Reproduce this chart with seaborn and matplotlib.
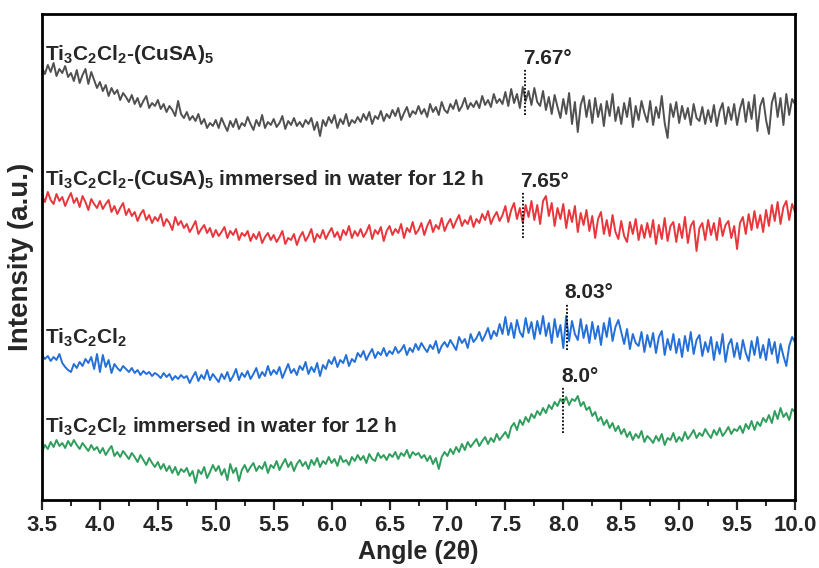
import numpy as np
import pandas as pd
import matplotlib
matplotlib.use('Agg')
import matplotlib.pyplot as plt
import seaborn as sns
from matplotlib.ticker import MultipleLocator

sns.set_style('white')
plt.rcParams['font.family'] = ['Liberation Sans', 'DejaVu Sans']
plt.rcParams['font.weight'] = 'bold'
plt.rcParams['mathtext.fontset'] = 'custom'
plt.rcParams['mathtext.rm'] = 'Liberation Sans'
plt.rcParams['mathtext.bf'] = 'Liberation Sans:bold'

# intensity (a.u., already stacked), 2theta from 3.5 to 10.0 step 0.025
cusa = [432, 426, 435, 428, 437, 424, 431, 427, 434, 423,
        427, 419, 430, 417, 425, 431, 416, 428, 420, 412,
        418, 409, 415, 404, 412, 406, 410, 400, 407, 403,
        398, 405, 396, 402, 393, 399, 404, 392, 397, 394,
        400, 391, 396, 388, 394, 390, 384, 399, 386, 382,
        388, 380, 384, 379, 386, 376, 381, 372, 377, 374,
        380, 372, 382, 375, 369, 379, 373, 381, 371, 377,
        374, 383, 376, 370, 380, 374, 385, 372, 378, 375,
        381, 373, 377, 384, 371, 379, 375, 382, 374, 378,
        373, 380, 376, 382, 370, 378, 364, 380, 374, 383,
        377, 385, 372, 381, 376, 386, 374, 380, 377, 383,
        378, 386, 380, 388, 376, 384, 381, 389, 379, 386,
        382, 390, 384, 392, 380, 387, 393, 383, 389, 386,
        394, 386, 391, 383, 396, 388, 393, 385, 398, 390,
        387, 396, 391, 400, 389, 394, 402, 391, 397, 393,
        399, 392, 404, 395, 400, 393, 406, 397, 401, 396,
        408, 394, 411, 397, 406, 392, 413, 399, 409, 395,
        412, 398, 394, 409, 390, 403, 386, 405, 393, 382,
        401, 386, 407, 376, 398, 368, 395, 404, 383, 400,
        377, 402, 383, 396, 374, 399, 384, 406, 379, 393,
        376, 397, 383, 402, 373, 394, 380, 399, 387, 378,
        399, 375, 393, 382, 404, 377, 362, 396, 383, 398,
        377, 394, 381, 392, 375, 396, 382, 379, 393, 376,
        390, 378, 395, 374, 389, 397, 376, 393, 380, 396,
        375, 391, 401, 378, 398, 381, 405, 369, 394, 402,
        380, 366, 397, 407, 383, 402, 375, 406, 385, 401,
        396]

cusa_water = [305, 298, 308, 300, 296, 306, 299, 303, 294, 301,
              307, 297, 302, 293, 304, 298, 290, 301, 296, 292,
              299, 291, 296, 300, 288, 294, 286, 292, 297, 285,
              291, 284, 288, 279, 286, 290, 280, 285, 277, 283,
              279, 286, 274, 281, 277, 270, 283, 275, 279, 272,
              276, 268, 273, 279, 266, 271, 275, 267, 272, 263,
              270, 264, 268, 273, 262, 269, 265, 271, 260, 267,
              264, 269, 259, 266, 261, 268, 257, 263, 267, 260,
              265, 258, 263, 269, 256, 262, 260, 266, 255, 263,
              268, 259, 264, 271, 258, 266, 262, 270, 261, 267,
              272, 263, 268, 260, 270, 265, 274, 262, 269, 264,
              271, 263, 268, 275, 261, 270, 266, 273, 259, 269,
              274, 265, 271, 267, 276, 262, 272, 268, 278, 266,
              270, 277, 265, 274, 280, 268, 275, 271, 282, 269,
              276, 281, 272, 279, 285, 274, 280, 276, 284, 273,
              281, 277, 286, 280, 289, 276, 283, 288, 279, 285,
              294, 278, 290, 297, 281, 292, 277, 295, 283, 299,
              280, 295, 276, 299, 304, 284, 297, 274, 292, 281,
              296, 272, 290, 278, 294, 268, 287, 275, 290, 269,
              284, 262, 281, 288, 266, 280, 264, 285, 268, 261,
              279, 264, 258, 278, 266, 281, 260, 275, 262, 277,
              263, 280, 256, 275, 261, 282, 259, 274, 278, 258,
              276, 262, 283, 257, 274, 279, 249, 272, 277, 260,
              280, 265, 277, 260, 282, 264, 275, 279, 262, 274,
              251, 277, 283, 266, 286, 270, 289, 272, 285, 268,
              290, 274, 295, 279, 298, 276, 293, 299, 280, 296,
              288]

ticl = [145, 141, 144, 139, 143, 140, 146, 137, 133, 130,
        128, 136, 132, 138, 134, 141, 137, 143, 131, 146,
        128, 145, 133, 140, 127, 136, 132, 129, 134, 131,
        128, 132, 127, 130, 125, 129, 126, 128, 124, 127,
        125, 122, 127, 123, 126, 120, 124, 121, 125, 122,
        124, 117, 123, 128, 119, 125, 121, 130, 120, 126,
        122, 118, 126, 121, 128, 119, 124, 131, 120, 127,
        123, 129, 121, 126, 132, 122, 128, 124, 134, 125,
        130, 126, 133, 122, 129, 136, 127, 131, 125, 134,
        130, 138, 126, 133, 128, 137, 124, 135, 131, 140,
        136, 143, 133, 140, 137, 145, 134, 141, 138, 147,
        143, 149, 140, 146, 151, 142, 148, 145, 152, 144,
        149, 146, 153, 147, 150, 155, 145, 152, 148, 156,
        150, 157, 152, 148, 155, 151, 159, 147, 154, 158,
        153, 160, 155, 150, 163, 157, 161, 152, 166, 158,
        162, 168, 159, 165, 172, 161, 169, 164, 176, 166,
        183, 165, 177, 162, 180, 168, 163, 182, 167, 178,
        161, 179, 166, 184, 164, 177, 157, 181, 163, 175,
        152, 184, 159, 179, 166, 160, 181, 162, 175, 157,
        178, 161, 174, 155, 177, 163, 182, 159, 173, 180,
        168, 156, 171, 151, 166, 157, 154, 168, 148, 165,
        153, 167, 147, 163, 169, 145, 161, 150, 166, 147,
        161, 143, 164, 149, 168, 146, 160, 165, 144, 158,
        148, 163, 140, 158, 146, 166, 138, 155, 161, 143,
        157, 141, 160, 147, 139, 159, 145, 163, 142, 155,
        140, 161, 146, 158, 137, 156, 144, 134, 154, 163,
        158]

ticl_water = [48, 55, 51, 58, 53, 60, 54, 57, 52, 59,
              54, 60, 55, 51, 57, 53, 49, 55, 50, 53,
              47, 52, 45, 50, 54, 44, 48, 43, 49, 45,
              41, 47, 43, 38, 45, 40, 35, 42, 37, 33,
              38, 31, 36, 29, 34, 27, 33, 25, 31, 28,
              32, 24, 29, 17, 30, 26, 33, 22, 28, 35,
              29, 34, 25, 31, 20, 36, 27, 32, 19, 30,
              35, 28, 33, 37, 29, 34, 31, 38, 27, 35,
              32, 39, 30, 36, 41, 33, 38, 29, 36, 40,
              34, 38, 31, 40, 35, 42, 33, 39, 36, 43,
              37, 41, 34, 44, 38, 40, 35, 43, 39, 45,
              40, 44, 37, 46, 41, 39, 47, 42, 45, 40,
              46, 43, 48, 41, 47, 44, 50, 42, 48, 45,
              47, 42, 45, 39, 44, 36, 42, 31, 43, 48,
              44, 51, 46, 53, 48, 56, 50, 58, 53, 57,
              61, 54, 59, 63, 56, 62, 58, 66, 60, 64,
              68, 62, 73, 77, 70, 80, 75, 83, 78, 86,
              82, 89, 85, 92, 87, 95, 91, 98, 94, 101,
              97, 103, 95, 101, 99, 104, 94, 98, 90, 93,
              84, 88, 79, 83, 75, 80, 72, 77, 69, 74,
              66, 71, 63, 68, 60, 66, 62, 69, 58, 64,
              61, 57, 64, 59, 66, 55, 62, 60, 67, 58,
              63, 59, 68, 61, 65, 70, 62, 67, 64, 71,
              66, 62, 70, 65, 72, 64, 68, 73, 66, 71,
              69, 74, 67, 76, 71, 79, 70, 78, 74, 82,
              78, 85, 77, 89, 81, 92, 83, 87, 80, 91,
              88]

angle = np.linspace(3.5, 10.0, len(cusa))

names = ['Ti$_\\mathbf{3}$C$_\\mathbf{2}$Cl$_\\mathbf{2}$-(CuSA)$_\\mathbf{5}$',
         'Ti$_\\mathbf{3}$C$_\\mathbf{2}$Cl$_\\mathbf{2}$-(CuSA)$_\\mathbf{5}$ immersed in water for 12 h',
         'Ti$_\\mathbf{3}$C$_\\mathbf{2}$Cl$_\\mathbf{2}$',
         'Ti$_\\mathbf{3}$C$_\\mathbf{2}$Cl$_\\mathbf{2}$ immersed in water for 12 h']
series = [cusa, cusa_water, ticl, ticl_water]
colors = ['#505050', '#e8363c', '#2470d8', '#2f9e5c']
name_y = [440, 315, 157, 68]

peaks = [7.67, 7.65, 8.03, 8.0]
peak_text = ['7.67°', '7.65°', '8.03°', '8.0°']
peak_lo = [385, 262, 150, 67]
peak_hi = [431, 308, 197, 113]

df = pd.concat([pd.DataFrame({'angle': angle, 'intensity': s, 'sample': n})
                for s, n in zip(series, names)])

fig = plt.figure(figsize=(8.19, 5.68), dpi=100)
ax = fig.add_axes([42 / 819, 68 / 568, 753 / 819, 486 / 568])

for n, c in zip(names, colors):
    sns.lineplot(data=df[df['sample'] == n], x='angle', y='intensity',
                 color=c, linewidth=1.4, ax=ax, legend=False)

for n, y in zip(names, name_y):
    ax.text(3.53, y, n, fontsize=15, fontweight='bold', va='baseline', ha='left')

for p, t, lo, hi in zip(peaks, peak_text, peak_lo, peak_hi):
    ax.plot([p, p], [lo, hi], color='black', linestyle=(0, (1, 1)), linewidth=1.3)
    ax.text(p - 0.02, hi + 5, t, fontsize=15, fontweight='bold', va='baseline', ha='left')

ax.set_xlim(3.5, 10.0)
ax.set_ylim(0, 486)
ax.set_yticks([])
ax.xaxis.set_major_locator(MultipleLocator(0.5))
ax.xaxis.set_minor_locator(MultipleLocator(0.25))
ax.xaxis.set_major_formatter(plt.FormatStrFormatter('%.1f'))
ax.tick_params(axis='x', which='major', direction='out', length=7, width=1.6,
               labelsize=16, pad=4, bottom=True)
ax.tick_params(axis='x', which='minor', direction='out', length=4, width=1.4, bottom=True)
for lab in ax.get_xticklabels():
    lab.set_fontweight('bold')
for sp in ax.spines.values():
    sp.set_linewidth(2)
    sp.set_color('black')

ax.set_xlabel('Angle (2θ)', fontsize=18, fontweight='bold', labelpad=3)
ax.set_ylabel('Intensity (a.u.)', fontsize=20, fontweight='bold', labelpad=6)

fig.savefig('out.png', dpi=100)
